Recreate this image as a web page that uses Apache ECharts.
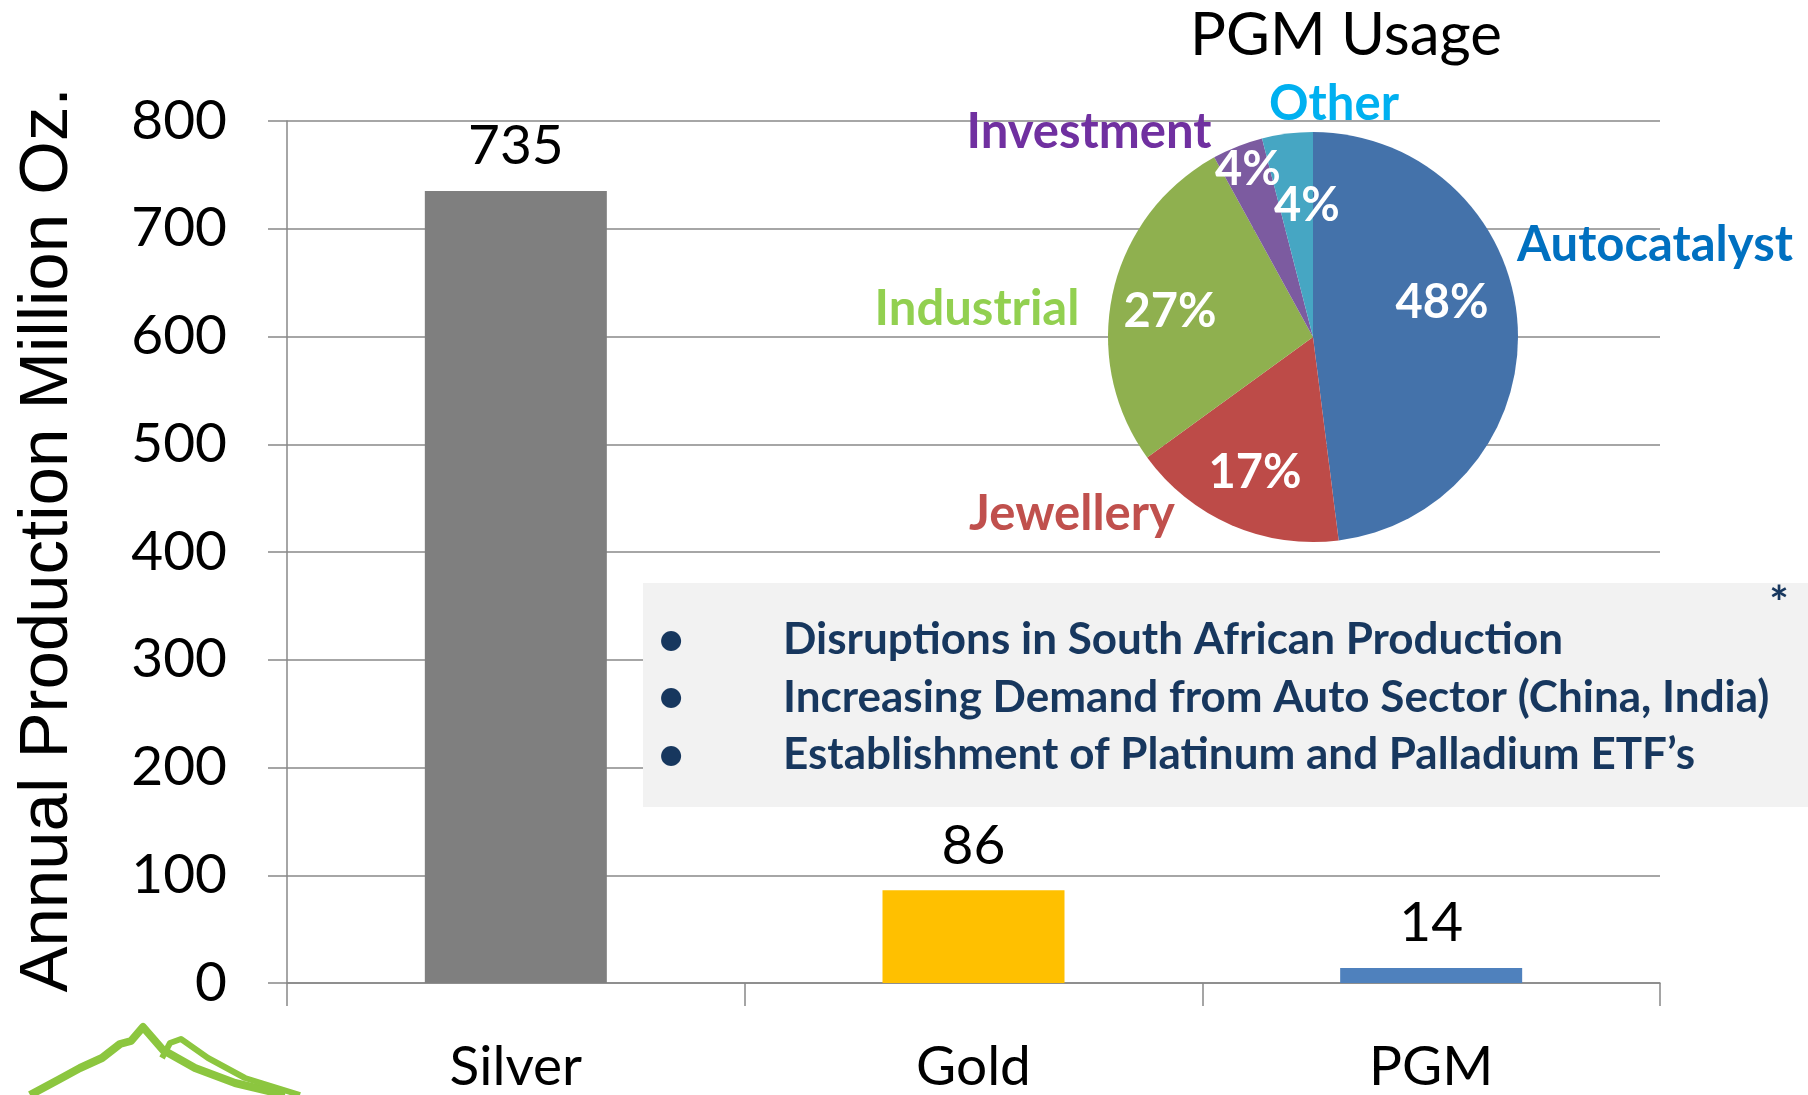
<!DOCTYPE html>
<html>
<head>
<meta charset="utf-8">
<title>PGM Usage</title>
<script src="https://cdn.jsdelivr.net/npm/echarts@6/dist/echarts.min.js"></script>
<style>
  html, body { margin: 0; padding: 0; background: #ffffff; }
  #chart { width: 1808px; height: 1095px; }
</style>
</head>
<body>
<div id="chart"></div>
<script>
// bar chart data
const metals = ['Silver', 'Gold', 'PGM'];
const production = [735, 86, 14];
const barColors = ['#7f7f7f', '#ffc000', '#4f81bd'];

// pie chart data
const usageNames = ['Autocatalyst', 'Jewellery', 'Industrial', 'Investment', 'Other'];
const usageShare = [48, 17, 27, 4, 4];
const sliceColors = ['#4472aa', '#bd4b48', '#8fb04f', '#7c5ba0', '#46a6c3'];
const nameColors = ['#0070c0', '#c0504d', '#92d050', '#7030a0', '#00b0f0'];

// text notes
const bullets = [
  'Disruptions in South African Production',
  'Increasing Demand from Auto Sector (China, India)',
  'Establishment of Platinum and Palladium ETF\u2019s'
];

// label centres of the pie (names outside, percentages on the slices)
const nameSpots = [[1655, 245], [1072, 514], [977, 309], [1089, 132], [1334, 104]];
const shareSpots = [[1442, 303], [1255, 473], [1170, 312], [1248, 170], [1307, 206]];

const FONT = 'Lato';
const GRID_LINE = '#888888';
const NAVY = '#17375e';

const chart = echarts.init(document.getElementById('chart'));

const pieData = usageNames.map((name, i) => ({
  name: name,
  value: usageShare[i],
  itemStyle: { color: sliceColors[i] },
  label: { color: nameColors[i] }
}));

const option = {
  backgroundColor: '#ffffff',
  animation: false,
  grid: {
    left: 287,
    right: 148,
    top: 121,
    bottom: 109,
    containLabel: false
  },
  xAxis: {
    type: 'category',
    data: metals,
    boundaryGap: true,
    axisLine: { show: true, lineStyle: { color: GRID_LINE, width: 1.5 } },
    axisTick: { show: true, length: 23, lineStyle: { color: GRID_LINE, width: 1.5 } },
    axisLabel: {
      color: '#000000',
      fontFamily: FONT,
      fontSize: 55,
      margin: 57
    }
  },
  yAxis: {
    type: 'value',
    min: 0,
    max: 800,
    interval: 100,
    name: 'Annual Production Million Oz.',
    nameLocation: 'middle',
    nameRotate: 90,
    nameGap: 205,
    nameTextStyle: {
      color: '#000000',
      fontFamily: 'Liberation Sans',
      fontSize: 69,
      padding: [0, 0, 0, 24]
    },
    axisLine: { show: true, lineStyle: { color: GRID_LINE, width: 1.5 } },
    axisTick: { show: true, length: 19, lineStyle: { color: GRID_LINE, width: 1.5 } },
    axisLabel: {
      color: '#000000',
      fontFamily: FONT,
      fontSize: 55,
      margin: 60
    },
    splitLine: { show: true, lineStyle: { color: GRID_LINE, width: 1.5 } }
  },
  series: [
    {
      name: 'Annual Production',
      type: 'bar',
      barWidth: 182,
      data: production.map((v, i) => ({ value: v, itemStyle: { color: barColors[i] } })),
      label: {
        show: true,
        position: 'top',
        distance: 17,
        color: '#000000',
        fontFamily: FONT,
        fontSize: 55
      },
      z: 2
    },
    {
      name: 'PGM Usage',
      type: 'pie',
      center: [1313, 337],
      radius: [0, 205],
      startAngle: 90,
      clockwise: true,
      avoidLabelOverlap: false,
      data: pieData,
      label: {
        show: true,
        position: 'outside',
        formatter: '{b}',
        fontFamily: FONT,
        fontWeight: 'bold',
        fontSize: 49
      },
      labelLine: { show: false },
      labelLayout: function (params) {
        const spot = nameSpots[params.dataIndex];
        return { x: spot[0], y: spot[1], align: 'center', verticalAlign: 'middle', hideOverlap: false };
      },
      z: 3
    },
    {
      // same slices again, only used to carry the percentage labels
      name: 'PGM Share',
      type: 'pie',
      center: [1313, 337],
      radius: [0, 205],
      startAngle: 90,
      clockwise: true,
      silent: true,
      avoidLabelOverlap: false,
      data: usageNames.map((name, i) => ({ name: name, value: usageShare[i] })),
      itemStyle: { color: 'rgba(0,0,0,0)' },
      label: {
        show: true,
        position: 'outside',
        formatter: '{c}%',
        color: '#ffffff',
        fontFamily: FONT,
        fontWeight: 'bold',
        fontSize: 47
      },
      labelLine: { show: false },
      labelLayout: function (params) {
        const spot = shareSpots[params.dataIndex];
        return { x: spot[0], y: spot[1], align: 'center', verticalAlign: 'middle', hideOverlap: false };
      },
      z: 4
    }
  ],
  graphic: [
    {
      type: 'text',
      z: 10,
      x: 1346,
      y: 36,
      style: {
        text: 'PGM Usage',
        fill: '#000000',
        font: '60px Lato',
        align: 'center',
        verticalAlign: 'middle'
      }
    },
    {
      type: 'rect',
      z: 10,
      shape: { x: 643, y: 583, width: 1165, height: 224 },
      style: { fill: '#f2f2f2' }
    },
    {
      type: 'text',
      z: 11,
      x: 1779,
      y: 604,
      style: { text: '*', fill: NAVY, font: 'bold 46px Lato', align: 'center', verticalAlign: 'middle' }
    },
    ...bullets.map((line, i) => ({
      type: 'group',
      z: 11,
      children: [
        {
          type: 'text',
          z: 11,
          x: 671,
          y: 640 + i * 57.5,
          style: { text: '\u2022', fill: NAVY, font: 'bold 46px Lato', align: 'center', verticalAlign: 'middle' }
        },
        {
          type: 'text',
          z: 11,
          x: 783,
          y: 640 + i * 57.5,
          style: { text: line, fill: NAVY, font: 'bold 44px Lato', align: 'left', verticalAlign: 'middle' }
        }
      ]
    })),
    {
      // mountain logo, bottom left
      type: 'group',
      z: 11,
      children: [
        {
          type: 'polyline',
          shape: { points: [[30, 1095], [58, 1080], [80, 1068], [102, 1058], [120, 1044], [131, 1041], [143, 1027], [163, 1050], [195, 1068], [235, 1083], [285, 1095]] },
          style: { stroke: '#8cc63f', lineWidth: 8, fill: null, lineJoin: 'round' }
        },
        {
          type: 'polyline',
          shape: { points: [[162, 1058], [170, 1043], [181, 1039], [208, 1058], [245, 1078], [300, 1095]] },
          style: { stroke: '#8cc63f', lineWidth: 6, fill: null, lineJoin: 'round' }
        }
      ]
    }
  ]
};

chart.setOption(option);
window.addEventListener('resize', () => chart.resize());
</script>
</body>
</html>
